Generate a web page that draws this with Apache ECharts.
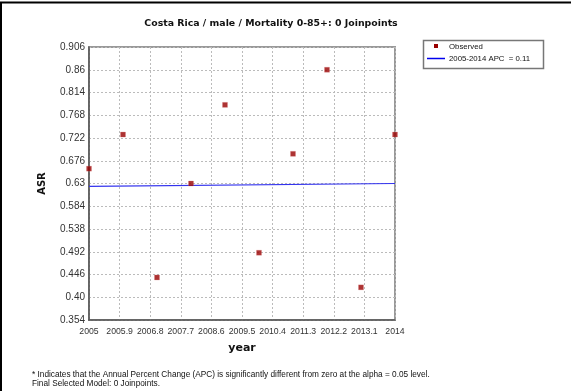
<!DOCTYPE html>
<html>
<head>
<meta charset="utf-8">
<script src="https://cdn.jsdelivr.net/npm/echarts@6/dist/echarts.min.js"></script>
<style>
  html, body { margin: 0; padding: 0; background: #fff; }
  #main { width: 571px; height: 391px; }
</style>
</head>
<body>
<div id="main"></div>
<script>
// observed ASR per year
var years = [2005, 2006, 2007, 2008, 2009, 2010, 2011, 2012, 2013, 2014];
var observed = [0.660, 0.729, 0.440, 0.630, 0.789, 0.490, 0.690, 0.860, 0.420, 0.729];
// fitted joinpoint line (0 joinpoints), endpoints
var fitYears = [2005, 2014];
var fitted = [0.624, 0.630];

// axis settings (ticks are drawn relative to the base so they land on the labels)
var xBase = 2005, xStep = 0.9, xSpan = 9;
var yBase = 0.354, yStep = 0.046, ySpan = 0.552;

var labelFont = 'Liberation Sans, Arial, sans-serif';

function toPts(xs, ys) {
    var out = [];
    for (var i = 0; i < xs.length; i++) {
        out.push([xs[i] - xBase, ys[i] - yBase]);
    }
    return out;
}

var chart = echarts.init(document.getElementById('main'));
chart.setOption({
    animation: false,
    backgroundColor: '#fff',
    title: {
        text: 'Costa Rica / male / Mortality 0-85+: 0 Joinpoints',
        left: 266,
        top: 14,
        textAlign: 'center',
        textStyle: { fontFamily: 'DejaVu Sans, sans-serif', fontSize: 9.4, fontWeight: 'bold', color: '#111' }
    },
    grid: {
        left: 89, right: 176, top: 47, bottom: 71,
        show: true, borderColor: '#999', borderWidth: 2
    },
    xAxis: {
        type: 'value',
        min: 0, max: xSpan, interval: xStep,
        name: 'year',
        nameLocation: 'middle',
        nameGap: 23,
        nameTextStyle: { fontFamily: 'DejaVu Sans, sans-serif', fontSize: 11, fontWeight: 'bold', color: '#111' },
        axisLine: { lineStyle: { color: '#555', width: 1.5 } },
        axisTick: { show: false },
        axisLabel: {
            color: '#333', fontFamily: labelFont, fontSize: 8.7, margin: 7,
            formatter: function (v) { return String(Math.round((v + xBase) * 10) / 10); }
        },
        splitLine: { lineStyle: { color: '#bbb', type: [2, 2] } }
    },
    yAxis: {
        type: 'value',
        min: 0, max: ySpan, interval: yStep,
        name: 'ASR',
        nameLocation: 'middle',
        nameGap: 42,
        nameRotate: 90,
        nameTextStyle: { fontFamily: 'DejaVu Sans, sans-serif', fontSize: 10, fontWeight: 'bold', color: '#111' },
        axisLine: { show: true, lineStyle: { color: '#555', width: 1.5 } },
        axisTick: { show: false },
        axisLabel: {
            color: '#333', fontFamily: labelFont, fontSize: 10, margin: 4,
            formatter: function (v) {
                var s = String(Math.round((v + yBase) * 1000) / 1000);
                return s === '0.4' ? '0.40' : s;
            }
        },
        splitLine: { lineStyle: { color: '#bbb', type: [2, 2] } }
    },
    series: [
        {
            name: 'Observed',
            type: 'scatter',
            symbol: 'rect',
            symbolSize: 5,
            itemStyle: { color: '#990000', borderColor: 'rgba(220,120,120,0.3)', borderWidth: 1 },
            data: toPts(years, observed),
            z: 3
        },
        {
            name: '2005-2014 APC  = 0.11',
            type: 'line',
            symbol: 'none',
            lineStyle: { color: '#3333ee', width: 1.2 },
            data: toPts(fitYears, fitted),
            z: 2
        }
    ],
    graphic: [
        // page frame
        { type: 'line', shape: { x1: 0, y1: 2.5, x2: 571, y2: 2.5 }, style: { stroke: '#000', lineWidth: 2 } },
        { type: 'line', shape: { x1: 1, y1: 2, x2: 1, y2: 391 }, style: { stroke: '#000', lineWidth: 2 } },
        // legend box
        { type: 'rect', shape: { x: 423.5, y: 40.5, width: 120, height: 28 }, style: { fill: '#fff', stroke: '#777', lineWidth: 1.5 } },
        { type: 'rect', shape: { x: 434, y: 44, width: 4, height: 4 }, style: { fill: '#990000' } },
        { type: 'text', style: { x: 449, y: 47, text: 'Observed', fontFamily: labelFont, fontSize: 7.8, fill: '#111', verticalAlign: 'middle' } },
        { type: 'line', shape: { x1: 427, y1: 58.5, x2: 445, y2: 58.5 }, style: { stroke: '#0000ee', lineWidth: 1.5 } },
        { type: 'text', style: { x: 449, y: 58.5, text: '2005-2014 APC  = 0.11', fontFamily: labelFont, fontSize: 7.8, fill: '#111', verticalAlign: 'middle' } },
        // footnote
        { type: 'text', style: { x: 32, y: 375, text: '* Indicates that the Annual Percent Change (APC) is significantly different from zero at the alpha = 0.05 level.', fontFamily: labelFont, fontSize: 8.25, fill: '#111', verticalAlign: 'middle' } },
        { type: 'text', style: { x: 32, y: 384, text: 'Final Selected Model: 0 Joinpoints.', fontFamily: labelFont, fontSize: 8.25, fill: '#111', verticalAlign: 'middle' } }
    ]
});
</script>
</body>
</html>
